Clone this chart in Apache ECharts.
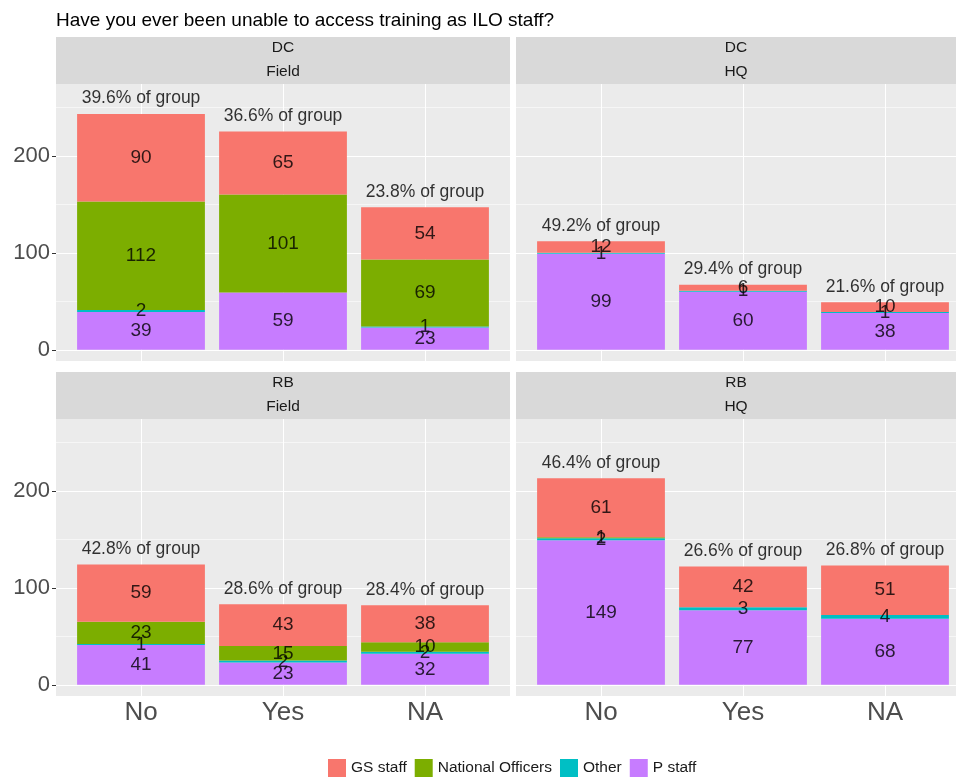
<!DOCTYPE html>
<html>
<head>
<meta charset="utf-8">
<script src="https://cdn.jsdelivr.net/npm/echarts@6/dist/echarts.min.js"></script>
<style>
  html, body { margin: 0; padding: 0; background: #ffffff; }
  #chart { width: 956px; height: 778px; }
</style>
</head>
<body>
<div id="chart"></div>
<script>
// ---- data -------------------------------------------------------------
const categories = ['No', 'Yes', 'NA'];
const staffGroups = ['GS staff', 'National Officers', 'Other', 'P staff'];
const yTickValues = [0, 100, 200];

// DC / Field
const dcFieldGS = [90, 65, 54];
const dcFieldNO = [112, 101, 69];
const dcFieldOther = [2, null, 1];
const dcFieldP = [39, 59, 23];
const dcFieldPct = [39.6, 36.6, 23.8];

// DC / HQ
const dcHqGS = [12, 6, 10];
const dcHqNO = [null, null, null];
const dcHqOther = [1, 1, 1];
const dcHqP = [99, 60, 38];
const dcHqPct = [49.2, 29.4, 21.6];

// RB / Field
const rbFieldGS = [59, 43, 38];
const rbFieldNO = [23, 15, 10];
const rbFieldOther = [1, 2, 2];
const rbFieldP = [41, 23, 32];
const rbFieldPct = [42.8, 28.6, 28.4];

// RB / HQ
const rbHqGS = [61, 42, 51];
const rbHqNO = [1, null, null];
const rbHqOther = [2, 3, 4];
const rbHqP = [149, 77, 68];
const rbHqPct = [46.4, 26.6, 26.8];

// ---- layout / style ---------------------------------------------------
const FONT = '"Liberation Sans", Arial, Helvetica, sans-serif';
const groupColors = {
  'GS staff': '#F8766D',
  'National Officers': '#7CAE00',
  'Other': '#00BFC4',
  'P staff': '#C77CFF'
};
const Y_MIN = -11.5, Y_MAX = 274;
const PANEL_W = 454, PANEL_H = 277, BAND_PAD = 14, STRIP_H = 47;
const CANVAS_W = 956;

const panels = [
  { row: 'DC', col: 'Field', left: 56,  top: 84,  gs: dcFieldGS, no: dcFieldNO, other: dcFieldOther, p: dcFieldP, pct: dcFieldPct },
  { row: 'DC', col: 'HQ',    left: 516, top: 84,  gs: dcHqGS,    no: dcHqNO,    other: dcHqOther,    p: dcHqP,    pct: dcHqPct },
  { row: 'RB', col: 'Field', left: 56,  top: 419, gs: rbFieldGS, no: rbFieldNO, other: rbFieldOther, p: rbFieldP, pct: rbFieldPct },
  { row: 'RB', col: 'HQ',    left: 516, top: 419, gs: rbHqGS,    no: rbHqNO,    other: rbHqOther,    p: rbHqP,    pct: rbHqPct }
];

// colours of the horizontal grid lines, one per tick: range ends hidden,
// hundreds as major (white), fifties as minor (fainter)
const hLineColors = ['rgba(0,0,0,0)'];
for (let v = 0; v <= 250; v += 50) hLineColors.push(v % 100 === 0 ? '#FFFFFF' : '#F6F6F6');
hLineColors.push('rgba(0,0,0,0)');

const grids = [], xAxes = [], yAxes = [], series = [], graphics = [];

panels.forEach((pn, i) => {
  const isLeft = pn.left < 100;
  const isBottom = pn.top > 300;
  const gBg = grids.length;
  grids.push({ left: pn.left, top: pn.top, width: PANEL_W, height: PANEL_H,
               show: true, backgroundColor: '#EBEBEB', borderWidth: 0 });
  const gBar = grids.length;
  grids.push({ left: pn.left + BAND_PAD, top: pn.top, width: PANEL_W - 2 * BAND_PAD, height: PANEL_H, show: false });

  xAxes.push({ gridIndex: gBg, type: 'value', min: 0, max: 1, show: false });
  const xBar = xAxes.length;
  xAxes.push({
    gridIndex: gBar, type: 'category', data: categories, boundaryGap: true,
    axisLine: { show: false },
    axisTick: { show: isBottom, alignWithLabel: true, length: 4, lineStyle: { color: '#333333', width: 1 } },
    axisLabel: { show: isBottom, fontSize: 26, color: '#4D4D4D', margin: 4, fontFamily: FONT },
    splitLine: { show: false }
  });

  yAxes.push({
    gridIndex: gBg, type: 'value', position: 'left', min: Y_MIN, max: Y_MAX, splitNumber: 6,
    axisLine: { show: false },
    axisTick: { show: isLeft, length: 4, customValues: yTickValues, lineStyle: { color: '#333333', width: 1 } },
    axisLabel: { show: isLeft, customValues: yTickValues, fontSize: 22, color: '#4D4D4D', margin: 6, fontFamily: FONT,
                 formatter: v => (yTickValues.indexOf(v) >= 0 ? String(v) : '') },
    splitLine: { show: false }
  });
  yAxes.push({
    gridIndex: gBg, type: 'value', min: Y_MIN, max: Y_MAX, splitNumber: 6,
    axisLine: { show: false }, axisTick: { show: false }, axisLabel: { show: false },
    splitLine: { show: true, lineStyle: { color: hLineColors, width: 1 } }
  });
  const yBar = yAxes.length;
  yAxes.push({ gridIndex: gBar, type: 'value', min: Y_MIN, max: Y_MAX, show: false, splitLine: { show: false } });

  // vertical grid lines at each category, kept beneath the bars
  series.push({
    type: 'line', name: 'vgrid' + i, xAxisIndex: xBar, yAxisIndex: yBar, data: [], z: 1, silent: true,
    markLine: {
      z: 1, silent: true, symbol: ['none', 'none'], label: { show: false },
      lineStyle: { color: '#FFFFFF', width: 1, type: 'solid' },
      emphasis: { disabled: true },
      data: categories.map(c => ({ xAxis: c }))
    }
  });

  // stacked bars, bottom to top
  const stackOrder = [['P staff', pn.p], ['Other', pn.other], ['National Officers', pn.no], ['GS staff', pn.gs]];
  stackOrder.forEach(([name, values]) => {
    series.push({
      type: 'bar', name, stack: 'panel' + i, xAxisIndex: xBar, yAxisIndex: yBar,
      data: values, barWidth: '90%', z: 3,
      itemStyle: { color: groupColors[name] },
      label: { show: true, position: 'inside', fontSize: 19, fontFamily: FONT,
               color: 'rgba(0,0,0,0.8)', formatter: p => String(p.value) },
      emphasis: { disabled: true }
    });
  });

  // share-of-group labels above each stack
  const totals = categories.map((c, k) =>
    [pn.p, pn.other, pn.no, pn.gs].reduce((s, arr) => s + (arr[k] || 0), 0));
  series.push({
    type: 'scatter', name: 'share' + i, xAxisIndex: xBar, yAxisIndex: yBar, z: 4,
    data: totals, symbolSize: 1, itemStyle: { color: 'rgba(0,0,0,0)' }, silent: true,
    label: { show: true, position: 'top', distance: 6, fontSize: 17.5, fontFamily: FONT, color: '#000000',
             formatter: p => pn.pct[p.dataIndex].toFixed(1) + '% of group' },
    emphasis: { disabled: true }
  });

  // facet strip
  const stripTop = pn.top - STRIP_H;
  const visibleRight = Math.min(pn.left + PANEL_W, CANVAS_W);
  const cx = (pn.left + visibleRight) / 2;
  graphics.push({ type: 'rect', shape: { x: pn.left, y: stripTop, width: PANEL_W, height: STRIP_H },
                  style: { fill: '#D9D9D9' }, silent: true });
  [[pn.row, 11], [pn.col, 35]].forEach(([txt, dy]) => {
    graphics.push({ type: 'text', x: cx, y: stripTop + dy, silent: true,
      style: { text: txt, fill: '#1A1A1A', fontSize: 15.5, fontFamily: FONT,
               textAlign: 'center', textVerticalAlign: 'middle', align: 'center', verticalAlign: 'middle' } });
  });
});

const chart = echarts.init(document.getElementById('chart'), null, { renderer: 'canvas' });
chart.setOption({
  animation: false,
  backgroundColor: '#FFFFFF',
  textStyle: { fontFamily: FONT },
  title: {
    text: 'Have you ever been unable to access training as ILO staff?',
    left: 51, top: 6,
    textStyle: { fontSize: 19, fontWeight: 'normal', color: '#000000', fontFamily: FONT }
  },
  legend: {
    data: staffGroups, left: 323, top: 754, icon: 'rect',
    itemWidth: 18, itemHeight: 18, itemGap: 8, selectedMode: false,
    textStyle: { fontSize: 15.5, color: '#1A1A1A', fontFamily: FONT }
  },
  grid: grids,
  xAxis: xAxes,
  yAxis: yAxes,
  series: series,
  graphic: { elements: graphics }
});
</script>
</body>
</html>
